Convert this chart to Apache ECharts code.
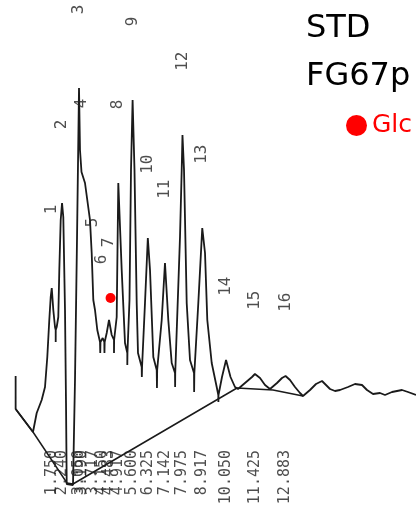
<!DOCTYPE html>
<html>
<head>
<meta charset="utf-8">
<script src="https://cdn.jsdelivr.net/npm/echarts@6/dist/echarts.min.js"></script>
<style>
html,body{margin:0;padding:0;background:#fff;}
#chart{width:416px;height:508px;}
</style>
</head>
<body>
<div id="chart"></div>
<script>
// Retention times (min) of the numbered peaks, as printed under the trace
const retentionTimes = [1.750, 2.240, 3.050, 3.190, 3.717, 4.150, 4.483, 4.917, 5.600, 6.325, 7.142, 7.975, 8.917, 10.050, 11.425, 12.883];
// Peak numbers printed above the peaks
const peakNumbers = ['1','2','3','4','5','6','7','8','9','10','11','12','13','14','15','16'];
// Peak apex heights (detector units)
const peakHeights = [152, 237, 352, 258, 139, 102, 119, 257, 340, 202, 177, 305, 212, 80, 66, 64];

// Detector trace: time (min) and signal
const traceTime = [0.03,0.03,0.857,1.033,1.271,1.429,1.538,1.633,1.700,1.750,1.824,1.905,1.938,1.938,1.940,1.986,2.062,2.110,2.176,2.240,2.300,2.381,2.429,2.462,2.762,2.857,2.952,3.048,3.095,3.167,3.333,3.571,3.652,3.729,3.810,3.919,4.048,4.060,4.070,4.176,4.252,4.260,4.270,4.367,4.476,4.605,4.714,4.714,4.720,4.843,4.919,5.081,5.238,5.348,5.348,5.355,5.452,5.524,5.600,5.690,5.795,5.857,6.033,6.040,6.050,6.190,6.325,6.429,6.586,6.748,6.760,6.770,6.986,7.142,7.300,7.462,7.619,7.625,7.630,7.786,7.857,7.938,7.975,8.048,8.176,8.333,8.524,8.530,8.540,8.729,8.917,9.048,9.157,9.367,9.605,9.681,9.685,9.690,9.857,10.050,10.262,10.476,10.619,10.952,11.286,11.425,11.667,11.905,12.143,12.476,12.714,12.883,13.095,13.333,13.571,13.714,14.048,14.333,14.619,14.810,15.000,15.238,15.476,15.857,16.190,16.524,16.762,17.048,17.381,17.619,17.952,18.429,18.714,19.095];
const traceSignal = [64,31,8,27,40,53,83,120,143,152,130,113,110,98,110,113,123,170,220,237,223,130,37,-44,-45,60,200,352,290,268,257,220,187,140,130,110,98,87,98,102,98,87,98,107,120,105,100,87,100,123,257,170,97,87,75,87,140,270,340,270,137,87,73,63,73,137,202,170,83,70,52,70,120,177,120,77,67,53,67,160,203,270,305,270,137,80,67,48,67,137,212,187,120,77,53,45,38,45,63,80,63,53,51,57,63,66,62,55,51,57,62,64,60,53,47,44,50,56,59,55,51,49,50,53,56,55,50,46,47,45,48,50,48,45];

// Integrator baseline
const baseTime = [0.03, 0.857, 2.476, 2.762, 10.571, 12.286, 13.714];
const baseSignal = [31, 8, -43, -44, 52, 50, 44];

// Glc marker
const glcPoint = [4.55, 142];

// signal level at which the printed retention-time column ends (layout)
const rtLabelLevel = -10;

const zip = (a, b) => a.map((v, i) => [v, b[i]]);
const mono = 'DejaVu Sans Mono';

const chart = echarts.init(document.getElementById('chart'), null, {renderer: 'canvas'});
chart.setOption({
  animation: false,
  backgroundColor: '#ffffff',
  title: [
    {text: 'STD', left: 306, top: 13, padding: 0,
     textStyle: {fontFamily: 'DejaVu Sans', fontSize: 32, fontWeight: 'normal', color: '#000'}},
    {text: 'FG67p', left: 306, top: 61, padding: 0,
     textStyle: {fontFamily: 'DejaVu Sans', fontSize: 32, fontWeight: 'normal', color: '#000'}}
  ],
  legend: {
    data: [{name: 'Glc', icon: 'circle', itemStyle: {color: '#ff0000'}}],
    left: 346, top: 113, padding: 0,
    itemWidth: 21, itemHeight: 21,
    selectedMode: false,
    textStyle: {fontFamily: 'DejaVu Sans', fontSize: 25, color: '#ff0000'}
  },
  grid: {left: 15, right: 0, top: 0, bottom: 0},
  xAxis: {
    type: 'value', min: 0, max: 19.095,
    axisLine: {show: false}, axisTick: {show: false}, splitLine: {show: false},
    axisLabel: {show: false}
  },
  yAxis: {type: 'value', min: -68, max: 440, show: false},
  series: [
    {
      type: 'line', name: 'trace', data: zip(traceTime, traceSignal),
      showSymbol: false, symbol: 'none',
      lineStyle: {color: '#1a1a1a', width: 1.8}, z: 3
    },
    {
      type: 'line', name: 'baseline', data: zip(baseTime, baseSignal),
      showSymbol: false, symbol: 'none',
      lineStyle: {color: '#1a1a1a', width: 1.5}, z: 2
    },
    {
      type: 'scatter', name: 'peaks', data: zip(retentionTimes, peakHeights),
      symbolSize: 1, itemStyle: {color: 'rgba(0,0,0,0)'},
      label: {
        show: true, position: 'top', distance: 83, rotate: 90,
        align: 'right', verticalAlign: 'middle',
        formatter: p => peakNumbers[p.dataIndex],
        fontFamily: mono, fontSize: 16, color: '#222'
      },
      z: 4
    },
    {
      type: 'scatter', name: 'rt', data: retentionTimes.map(t => [t, rtLabelLevel]),
      symbolSize: 1, itemStyle: {color: 'rgba(0,0,0,0)'},
      label: {
        show: true, position: 'inside', rotate: 90,
        align: 'right', verticalAlign: 'middle',
        formatter: p => retentionTimes[p.dataIndex].toFixed(3),
        fontFamily: mono, fontSize: 15, color: '#222'
      },
      z: 4
    },
    {
      type: 'scatter', name: 'Glc', data: [glcPoint],
      symbol: 'circle', symbolSize: 10,
      itemStyle: {color: '#ff0000', opacity: 1}, z: 5
    }
  ]
});
</script>
</body>
</html>
